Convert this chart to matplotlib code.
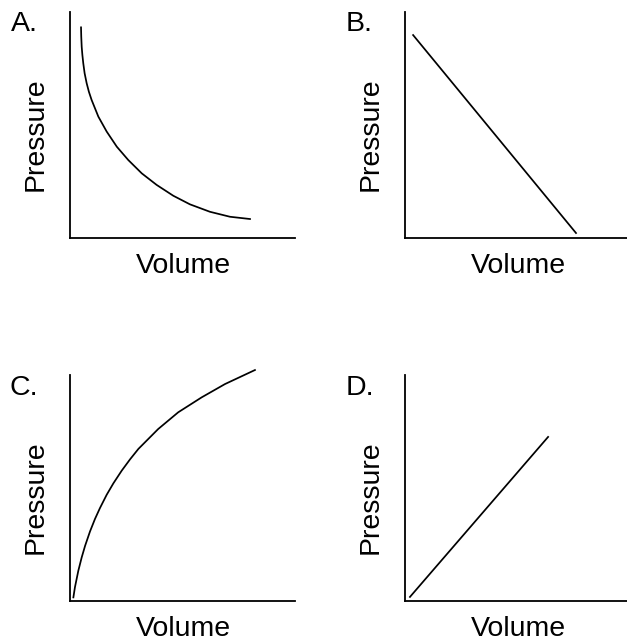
import matplotlib
matplotlib.use("Agg")
import matplotlib.pyplot as plt

plt.rcParams['font.family'] = ['Liberation Sans', 'DejaVu Sans']

# values (axis range 0..10 on both axes)
a_vol = [0.49, 0.50, 0.52, 0.55, 0.59, 0.65, 0.74, 0.84, 0.96, 1.11, 1.26, 1.63, 2.08,
         2.59, 3.19, 3.85, 4.59, 5.33, 6.22, 7.11, 8.0]
a_pres = [9.32, 8.91, 8.46, 8.10, 7.73, 7.29, 6.85, 6.47, 6.11, 5.74, 5.37, 4.71, 4.04,
          3.45, 2.86, 2.35, 1.87, 1.49, 1.16, 0.94, 0.84]

b_vol = [0.36, 7.6]
b_pres = [8.98, 0.22]

c_vol = [0.15, 0.22, 0.37, 0.52, 0.67, 0.89, 1.11, 1.33, 1.63, 1.93, 2.30, 2.67, 3.04,
         3.92, 4.81, 5.85, 6.89, 8.22]
c_pres = [0.16, 0.61, 1.34, 1.93, 2.44, 3.08, 3.63, 4.11, 4.70, 5.21, 5.77, 6.27, 6.73,
          7.61, 8.35, 9.01, 9.60, 10.22]

d_vol = [0.22, 6.36]
d_pres = [0.18, 7.26]

panels = ["A.", "B.", "C.", "D."]
xlabel = "Volume"
ylabel = "Pressure"

W, H = 627, 641
fig = plt.figure(figsize=(W / 100, H / 100), dpi=100)

# axes frames in pixels: left, top
boxes = [(70, 12), (405, 12), (70, 375), (405, 375)]
aw, ah = 225, 226
data = [(a_vol, a_pres), (b_vol, b_pres), (c_vol, c_pres), (d_vol, d_pres)]
letter_pos = [(24, 24), (359, 24), (24, 388), (360, 388)]
fs = 20.5

for i in range(4):
    left, top = boxes[i]
    ax = fig.add_axes([left / W, 1 - (top + ah) / H, aw / W, ah / H])
    x, y = data[i]
    ax.plot(x, y, color='black', lw=1.25, clip_on=False)
    ax.set_xlim(0, 10)
    ax.set_ylim(0, 10)
    ax.set_xticks([])
    ax.set_yticks([])
    ax.spines['top'].set_visible(False)
    ax.spines['right'].set_visible(False)
    ax.spines['left'].set_linewidth(1.3)
    ax.spines['bottom'].set_linewidth(1.3)

    # axis labels
    fig.text((left - 34) / W, 1 - (top + 122) / H, ylabel, rotation=90,
             ha='center', va='center', fontsize=fs)
    fig.text((left + 113) / W, 1 - (top + ah + 28) / H, xlabel,
             ha='center', va='center', fontsize=fs)

    lx, ly = letter_pos[i]
    fig.text(lx / W, 1 - ly / H, panels[i], ha='center', va='center', fontsize=fs)

fig.savefig("out.png", dpi=100)
